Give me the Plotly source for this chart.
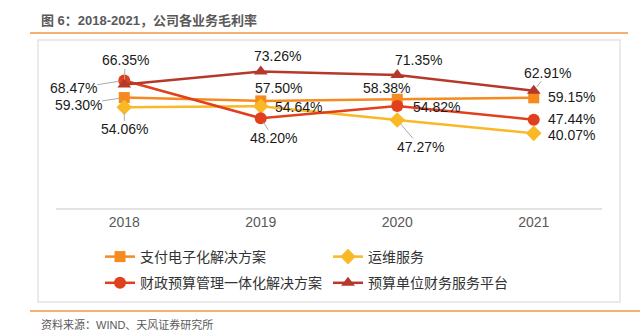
import plotly.graph_objects as go

# Gross margin by business line, 2018-2021 (%)
years = ["2018", "2019", "2020", "2021"]
payment = [59.30, 57.50, 58.38, 59.15]        # 支付电子化解决方案
operations = [54.06, 54.64, 47.27, 40.07]     # 运维服务
fiscal = [68.47, 48.20, 54.82, 47.44]         # 财政预算管理一体化解决方案
platform = [66.35, 73.26, 71.35, 62.91]       # 预算单位财务服务平台

names = ["支付电子化解决方案", "运维服务", "财政预算管理一体化解决方案", "预算单位财务服务平台"]
series = [payment, operations, fiscal, platform]
colors = ["#F58A1F", "#F9B826", "#E0401B", "#B5392B"]
symbols = ["square", "diamond", "circle", "triangle-up"]
sizes = [11, 12, 12, 12]
legend_slots = ["legend", "legend2", "legend", "legend2"]

# label placement per series and year: (dx, dy, leader line)
offsets = [
    [(-46, 7, True), (18, -13, False), (-11, -11, False), (38, -1, False)],
    [(0, 22, True), (38, 1, False), (23, 27, True), (38, 2, False)],
    [(-51, 8, True), (13, 20, True), (39, 1, False), (38, -1, False)],
    [(1, -24, True), (17, -16, False), (21, -15, False), (14, -18, True)],
]

FONT = "Liberation Sans, Arial, Noto Sans CJK SC, sans-serif"

fig = go.Figure()
for i, (name, vals, col, sym, sz, lg) in enumerate(
        zip(names, series, colors, symbols, sizes, legend_slots)):
    fig.add_trace(go.Scatter(
        x=years, y=vals, name=name, mode="lines+markers",
        line=dict(color=col, width=2.5),
        marker=dict(symbol=sym, size=sz, color=col),
        legend=lg, legendgroup=f"g{i}",
    ))

# value labels, positioned at category index on the x axis
for vals, offs in zip(series, offsets):
    for j, (v, (dx, dy, lead)) in enumerate(zip(vals, offs)):
        txt = f"{v:.2f}%"
        if lead:
            fig.add_annotation(
                x=j, y=v, xref="x", yref="y", text=txt, showarrow=True,
                ax=dx, ay=dy, arrowhead=0, arrowwidth=1, arrowcolor="#AAAAAA",
                standoff=5, borderpad=0,
                font=dict(size=14, color="#1a1a1a", family=FONT),
            )
        else:
            fig.add_annotation(
                x=j, y=v, xref="x", yref="y", text=txt, showarrow=False,
                xshift=dx, yshift=-dy, borderpad=0,
                font=dict(size=14, color="#1a1a1a", family=FONT),
            )

# pixel -> paper helpers for the 56..602 x 59..208 plot area
def px(p):
    return (p - 56) / 546.0

def py(p):
    return (208 - p) / 149.0

fig.add_annotation(
    x=px(39), y=py(21), xref="paper", yref="paper", xanchor="left", yanchor="middle",
    text="<b>图 6：2018-2021，公司各业务毛利率</b>", showarrow=False,
    font=dict(size=13, color="#595959", family=FONT),
)
fig.add_annotation(
    x=px(39), y=py(324), xref="paper", yref="paper", xanchor="left", yanchor="middle",
    text="资料来源：WIND、天风证券研究所", showarrow=False,
    font=dict(size=11, color="#595959", family=FONT),
)

fig.add_shape(type="line", xref="paper", yref="paper", x0=px(30), x1=px(628), y0=py(33), y1=py(33),
              line=dict(color="#F7AE72", width=2))
fig.add_shape(type="rect", xref="paper", yref="paper", x0=px(38), x1=px(620), y0=py(40), y1=py(302),
              line=dict(color="#E3E3E3", width=1.5))
fig.add_shape(type="line", xref="paper", yref="paper", x0=px(30), x1=px(640), y0=py(311), y1=py(311),
              line=dict(color="#F7AE72", width=2))

legend_common = dict(
    orientation="v", yanchor="top", xanchor="left",
    font=dict(size=14, color="#333333", family=FONT),
    tracegroupgap=5, itemwidth=30, bgcolor="rgba(0,0,0,0)",
)

fig.update_layout(
    width=640, height=336,
    margin=dict(l=56, r=38, t=59, b=128),
    paper_bgcolor="white", plot_bgcolor="white",
    font=dict(family=FONT),
    showlegend=True,
    legend=dict(x=px(100), y=py(241), **legend_common),
    legend2=dict(x=px(328), y=py(241), **legend_common),
    xaxis=dict(
        type="category", range=[-0.5, 3.5], showgrid=False, zeroline=False,
        showline=True, linecolor="#E3E3E3", linewidth=2, ticks="",
        tickfont=dict(size=14, color="#595959", family=FONT),
    ),
    yaxis=dict(range=[0, 80], showgrid=False, zeroline=False, showline=False,
               showticklabels=False, ticks=""),
)

fig.write_html("out.html")
